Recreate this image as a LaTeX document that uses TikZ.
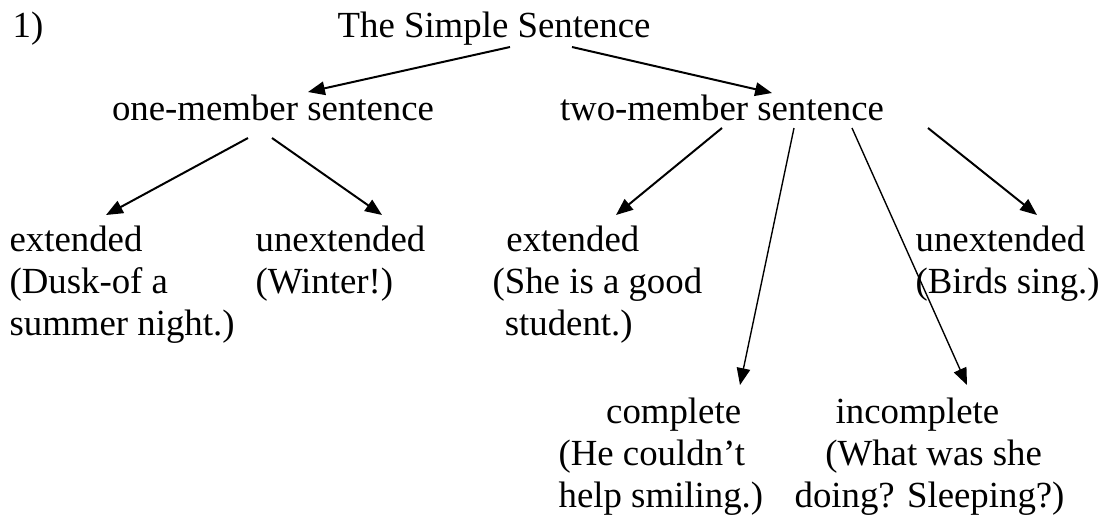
\documentclass[tikz,border=0pt]{standalone}
\usepackage{fontspec}
\setmainfont{Liberation Serif}
\usetikzlibrary{arrows.meta}

\begin{document}
\begin{tikzpicture}[
  x=0.326pt, y=-0.326pt,
  font=\fontsize{12}{13.8}\selectfont,
  arr/.style   = {-{Triangle[length=5.5pt, width=4.4pt]}, line width=0.65pt},
  longarr/.style = {arr, line width=0.45pt},
  lbl/.style   = {inner sep=0pt, anchor=base},
  block/.style = {inner sep=0pt, anchor=north west, align=left},
]
\useasboundingbox (0,0) rectangle (1105,518);

%% ── Row 0: title ──────────────────────────────────────────────────────────
\node[lbl, anchor=base west] (num) at (12,37) {1)};
\node[lbl] (title) at (494,37) {The Simple Sentence};

%% ── Row 1: kinds ──────────────────────────────────────────────────────────
\node[lbl] (one) at (273,120) {one-member sentence};
\node[lbl] (two) at (722,120) {two-member sentence};

\draw[arr] ([shift={(16,10)}]title.base) -- ([shift={(35,-28)}]one.base);
\draw[arr] ([shift={(78,10)}]title.base) -- ([shift={(50,-27)}]two.base);

%% ── Row 2: extended / unextended ──────────────────────────────────────────
\node[block] (extL) at (9,225)
  {extended\\(Dusk-of a\\summer night.)};
\node[block] (unextL) at (255,225)
  {unextended\\(Winter!)};
\node[block] (extR) at (492,225)
  {\hspace*{4.5pt}extended\\(She is a good\\\hspace*{4pt}student.)};
\node[block] (unextR) at (915,225)
  {unextended\\(Birds sing.)};

\draw[arr] ([shift={(-25,18)}]one.base) -- ([shift={(97,-10)}]extL.north west);
\draw[arr] ([shift={(-1,18)}]one.base) -- ([shift={(127,-10)}]unextL.north west);
\draw[arr] ([shift={(0,8)}]two.base) -- ([shift={(124,-10)}]extR.north west);
\draw[arr] ([shift={(206,8)}]two.base) -- ([shift={(122,-10)}]unextR.north west);

%% ── Row 3: complete / incomplete ──────────────────────────────────────────
\node[block] (compl) at (558,397)
  {\hspace*{15.5pt}complete\\(He couldn’t\\help smiling.)};
\node[block] (incompl) at (794,397)
  {\hspace*{13.4pt}incomplete\\\hspace*{10pt}(What was she\\doing? Sleeping?)};

\draw[longarr] ([shift={(72,8)}]two.base) -- ([shift={(182,-12)}]compl.north west);
\draw[longarr] ([shift={(130,8)}]two.base) -- ([shift={(173,-12)}]incompl.north west);

\end{tikzpicture}
\end{document}
